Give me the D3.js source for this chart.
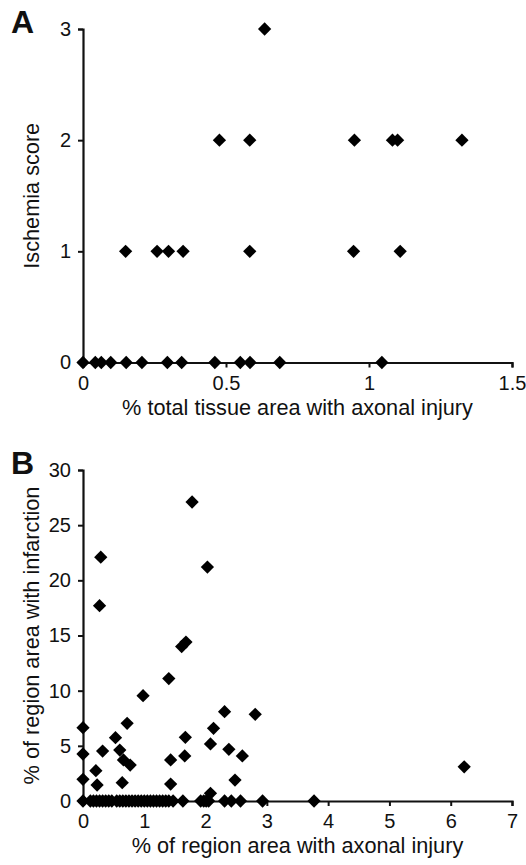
<!DOCTYPE html>
<html>
<head>
<meta charset="utf-8">
<script src="https://cdn.jsdelivr.net/npm/d3@7"></script>
<style>
  body { margin: 0; background: #fff; }
  svg { font-family: "Liberation Sans", Arial, sans-serif; }
</style>
</head>
<body>
<svg width="526" height="865"></svg>
<script>
// panel A: % total tissue area with axonal injury vs ischemia score
var a_x = [0.635,
    0.477, 0.583, 0.949, 1.082, 1.100, 1.325,
    0.149, 0.259, 0.299, 0.350, 0.583, 0.946, 1.109,
    0, 0.043, 0.064, 0.097, 0.151, 0.206, 0.295, 0.345, 0.461, 0.550, 0.584, 0.688, 1.045];
var a_y = [3,
    2, 2, 2, 2, 2, 2,
    1, 1, 1, 1, 1, 1, 1,
    0, 0, 0, 0, 0, 0, 0, 0, 0, 0, 0, 0, 0];
var a_xticks = [0, 0.5, 1, 1.5];
var a_yticks = [0, 1, 2, 3];

// panel B: % of region area with axonal injury vs infarction
var b_x = [1.78, 0.29, 0.27, 2.03, 1.61, 1.68, 1.40, 0.98, 2.31, 2.81,
    0, 0.72, 0.53, 2.13, 1.67, 0, 0.32, 0.60, 0.66, 0.77,
    1.43, 1.66, 2.08, 2.38, 2.60, 0.21, 0.23, 0, 0.64, 1.43,
    2.48, 6.22, 2.08,
    // zero row
    0, 0.12, 0.17, 0.22, 0.27, 0.32, 0.37, 0.42, 0.47, 0.55, 0.60, 0.65, 0.70, 0.75,
    0.80, 0.85, 0.90, 0.95, 1.00, 1.05, 1.10, 1.15, 1.20, 1.25, 1.30, 1.35, 1.40, 1.47,
    1.63, 1.92, 1.97, 2.01, 2.05, 2.31, 2.42, 2.57, 2.93, 3.77];
var b_y = [27.1, 22.1, 17.7, 21.2, 14.0, 14.4, 11.1, 9.55, 8.1, 7.86,
    6.65, 7.04, 5.74, 6.59, 5.77, 4.26, 4.53, 4.62, 3.72, 3.26,
    3.72, 4.08, 5.17, 4.68, 4.08, 2.75, 1.45, 1.97, 1.66, 1.54,
    1.9, 3.1, 0.7,
    0, 0, 0, 0, 0, 0, 0, 0, 0, 0, 0, 0, 0, 0,
    0, 0, 0, 0, 0, 0, 0, 0, 0, 0, 0, 0, 0, 0,
    0, 0, 0, 0, 0, 0, 0, 0, 0, 0];
var b_xticks = [0, 1, 2, 3, 4, 5, 6, 7];
var b_yticks = [0, 5, 10, 15, 20, 25, 30];

var svg = d3.select("svg");
var diamond = d3.symbol().type(d3.symbolSquare).size(88)();

function draw_panel(opt) {
    var x = d3.scaleLinear().domain(opt.xdomain).range([83, 512]);
    var y = d3.scaleLinear().domain(opt.ydomain).range([opt.bottom, opt.top]);
    var g = svg.append("g");

    var xa = g.append("g")
        .attr("transform", "translate(0," + opt.bottom + ")")
        .call(d3.axisBottom(x).tickValues(opt.xticks).tickSizeOuter(0).tickSize(5).tickPadding(8)
            .tickFormat(function(d) { return d; }));
    var ya = g.append("g")
        .attr("transform", "translate(83,0)")
        .call(d3.axisLeft(y).tickValues(opt.yticks).tickSizeOuter(0).tickSize(5).tickPadding(7)
            .tickFormat(function(d) { return d; }));
    [xa, ya].forEach(function(a) {
        a.select(".domain").attr("stroke", "#111").attr("stroke-width", 2.2);
        a.selectAll(".tick line").attr("stroke", "#111").attr("stroke-width", 2);
        a.selectAll(".tick text").attr("fill", "#111").style("font-size", "20px")
            .style("font-family", "'Liberation Sans', Arial, sans-serif");
    });

    g.selectAll("path.pt")
        .data(opt.xs)
        .enter().append("path")
        .attr("class", "pt")
        .attr("d", diamond)
        .attr("fill", "#000")
        .attr("transform", function(d, i) {
            return "translate(" + x(d) + "," + y(opt.ys[i]) + ") rotate(45)";
        });

    g.append("text")
        .attr("x", (83 + 512) / 2)
        .attr("y", opt.bottom + 52)
        .attr("text-anchor", "middle")
        .style("font-size", "21.7px")
        .attr("fill", "#111")
        .text(opt.xlabel);
    g.append("text")
        .attr("transform", "translate(39," + (opt.top + opt.bottom) / 2 + ") rotate(-90)")
        .attr("text-anchor", "middle")
        .style("font-size", "21.7px")
        .attr("fill", "#111")
        .text(opt.ylabel);
    g.append("text")
        .attr("x", 11)
        .attr("y", opt.top + 4)
        .style("font-size", "32px")
        .style("font-weight", "bold")
        .attr("fill", "#111")
        .text(opt.letter);
}

draw_panel({
    xs: a_x, ys: a_y, xdomain: [0, 1.5], ydomain: [0, 3],
    xticks: a_xticks, yticks: a_yticks, top: 29, bottom: 362.5,
    xlabel: "% total tissue area with axonal injury", ylabel: "Ischemia score", letter: "A"
});

draw_panel({
    xs: b_x, ys: b_y, xdomain: [0, 7], ydomain: [0, 30],
    xticks: b_xticks, yticks: b_yticks, top: 470, bottom: 801,
    xlabel: "% of region area with axonal injury", ylabel: "% of region area with infarction", letter: "B"
});
</script>
</body>
</html>
